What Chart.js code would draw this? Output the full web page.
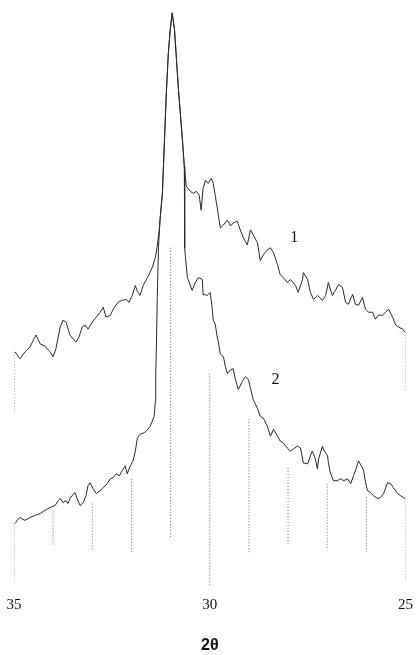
<!DOCTYPE html>
<html>
<head>
<meta charset="utf-8">
<script src="https://cdn.jsdelivr.net/npm/chart.js@4.4.1/dist/chart.umd.min.js"></script>
<style>
    body { margin: 0; background: #fff; }
    #wrap { width: 418px; height: 655px; }
</style>
</head>
<body>
<div id="wrap"><canvas id="xrd-chart"></canvas></div>
<script>
// 2-theta positions (degrees) and intensities (arbitrary units)
const angles1 = [34.97, 34.85, 34.72, 34.59, 34.44, 34.33, 34.21, 34.08, 34.00, 33.93, 33.82, 33.75, 33.67, 33.57, 33.49, 33.41, 33.34, 33.26, 33.18, 33.11,
    33.00, 32.90, 32.80, 32.72, 32.65, 32.54, 32.44, 32.34, 32.24, 32.14, 32.06, 31.98, 31.90, 31.85, 31.78, 31.70, 31.62, 31.55, 31.47, 31.39,
    31.34, 31.29, 31.27, 31.21, 31.16, 31.11, 31.06, 31.01, 30.96, 30.90, 30.85, 30.80, 30.75, 30.70, 30.65, 30.60, 30.50, 30.42, 30.34, 30.27,
    30.22, 30.17, 30.11, 30.04, 29.96, 29.91, 29.86, 29.78, 29.73, 29.65, 29.55, 29.47, 29.40, 29.30, 29.22, 29.14, 29.04, 28.96, 28.89, 28.78,
    28.71, 28.63, 28.53, 28.45, 28.37, 28.27, 28.20, 28.12, 28.02, 27.94, 27.81, 27.74, 27.63, 27.61, 27.50, 27.43, 27.35, 27.25, 27.12, 27.04,
    26.97, 26.87, 26.79, 26.71, 26.61, 26.53, 26.46, 26.35, 26.28, 26.20, 26.10, 26.02, 25.94, 25.84, 25.77, 25.69, 25.59, 25.51, 25.43, 25.33,
    25.25, 25.18, 25.07, 25.02];
const counts1 = [237, 230, 237, 242, 254, 245, 243, 237, 232, 240, 262, 269, 267, 254, 250, 247, 252, 262, 264, 260,
    267, 272, 277, 282, 272, 274, 282, 287, 289, 290, 287, 294, 304, 298, 294, 304, 310, 315, 322, 332,
    344, 360, 370, 397, 447, 497, 537, 562, 579, 562, 532, 502, 477, 452, 424, 404, 399, 397, 399, 395,
    380, 402, 410, 407, 412, 407, 395, 375, 362, 365, 370, 364, 367, 369, 360, 352, 345, 360, 355, 347,
    329, 335, 340, 342, 337, 325, 315, 312, 307, 310, 304, 297, 310, 317, 310, 297, 290, 294, 289, 294,
    307, 294, 299, 305, 302, 287, 285, 295, 285, 284, 292, 280, 277, 277, 270, 274, 274, 277, 280, 272,
    264, 262, 260, 257];

const angles2 = [34.97, 34.92, 34.85, 34.72, 34.59, 34.46, 34.33, 34.21, 34.08, 33.95, 33.87, 33.82, 33.75, 33.67, 33.62, 33.57, 33.52, 33.44, 33.39, 33.31,
    33.23, 33.16, 33.11, 33.06, 32.98, 32.90, 32.80, 32.72, 32.62, 32.54, 32.47, 32.39, 32.31, 32.24, 32.16, 32.11, 32.03, 31.96, 31.90, 31.85,
    31.78, 31.70, 31.62, 31.52, 31.47, 31.42, 31.39, 31.38, 31.36, 31.34, 31.31, 31.27, 31.21, 31.16, 31.11, 31.06, 31.01, 30.96, 30.90, 30.85,
    30.80, 30.75, 30.70, 30.65, 30.64, 30.62, 30.57, 30.55, 30.45, 30.37, 30.29, 30.19, 30.17, 30.06, 29.99, 29.94, 29.91, 29.86, 29.81, 29.78,
    29.73, 29.65, 29.60, 29.55, 29.47, 29.40, 29.35, 29.27, 29.17, 29.09, 29.01, 28.96, 28.89, 28.78, 28.71, 28.63, 28.53, 28.45, 28.37, 28.27,
    28.20, 28.12, 28.02, 27.94, 27.86, 27.76, 27.68, 27.61, 27.50, 27.43, 27.38, 27.30, 27.25, 27.22, 27.12, 27.10, 26.99, 26.97, 26.92, 26.84,
    26.74, 26.66, 26.58, 26.48, 26.40, 26.33, 26.28, 26.20, 26.10, 26.07, 26.02, 25.97, 25.89, 25.82, 25.71, 25.64, 25.56, 25.46, 25.38, 25.31,
    25.20, 25.13, 25.05, 25.00];
const counts2 = [64, 67, 70, 67, 70, 72, 74, 77, 80, 82, 87, 89, 85, 87, 84, 89, 92, 95, 89, 82,
    85, 92, 102, 105, 99, 94, 97, 100, 104, 109, 110, 114, 112, 117, 122, 114, 122, 127, 137, 150,
    154, 155, 157, 162, 167, 172, 187, 214, 247, 292, 342, 370, 397, 447, 497, 537, 562, 579, 562, 532,
    502, 477, 452, 424, 342, 332, 312, 310, 299, 307, 312, 310, 295, 294, 297, 282, 269, 265, 252, 247,
    235, 232, 222, 215, 219, 220, 210, 199, 207, 212, 209, 200, 189, 180, 172, 170, 162, 152, 159, 152,
    147, 145, 140, 137, 139, 142, 140, 125, 124, 132, 137, 129, 119, 129, 142, 139, 132, 125, 115, 107,
    107, 109, 107, 109, 104, 112, 117, 127, 120, 117, 105, 97, 95, 92, 89, 90, 94, 105, 104, 100,
    94, 92, 90, 89];

// dotted marker lines at whole degrees (below curve 2) and the end drops of curve 1
const dropAngles = [35, 34, 33, 32, 31, 30, 29, 28, 27, 26, 25];
const dropTop = [64, 77, 84, 109, 342, 215, 169, 120, 104, 90, 89];
const dropBottom = [5, 42, 37, 35, 49, 0, 35, 42, 37, 35, 5];
const endDropAngles = [35, 25];
const endDropTop = [237, 257];
const endDropBottom = [174, 199];

const tickValues = [35, 30, 25];
const curveNames = ['1', '2'];
const curveNameAngles = [27.84, 28.32];
const curveNameCounts = [352, 209];

function toPoints(xs, ys) {
    return xs.map((x, i) => ({ x: x, y: ys[i] }));
}

const datasets = [
    {
        label: curveNames[0],
        data: toPoints(angles1, counts1),
        borderColor: '#2a2a2a',
        borderWidth: 1,
        pointRadius: 0,
        tension: 0
    },
    {
        label: curveNames[1],
        data: toPoints(angles2, counts2),
        borderColor: '#2a2a2a',
        borderWidth: 1,
        pointRadius: 0,
        tension: 0
    }
];

dropAngles.forEach((a, i) => {
    datasets.push({
        data: [{ x: a, y: dropTop[i] }, { x: a, y: dropBottom[i] }],
        borderColor: '#666',
        borderWidth: 1,
        borderDash: [1, 2],
        pointRadius: 0
    });
});
endDropAngles.forEach((a, i) => {
    datasets.push({
        data: [{ x: a, y: endDropTop[i] }, { x: a, y: endDropBottom[i] }],
        borderColor: '#666',
        borderWidth: 1,
        borderDash: [1, 2],
        pointRadius: 0
    });
});

// writes the curve numbers next to the traces
const curveLabels = {
    id: 'curveLabels',
    afterDatasetsDraw(chart) {
        const { ctx, scales } = chart;
        ctx.save();
        ctx.fillStyle = '#111';
        ctx.font = '16px "Liberation Serif"';
        ctx.textAlign = 'center';
        ctx.textBaseline = 'middle';
        curveNames.forEach((name, i) => {
            ctx.fillText(name, scales.x.getPixelForValue(curveNameAngles[i]), scales.y.getPixelForValue(curveNameCounts[i]));
        });
        ctx.restore();
    }
};

new Chart(document.getElementById('xrd-chart'), {
    type: 'line',
    data: { datasets: datasets },
    options: {
        responsive: true,
        maintainAspectRatio: false,
        animation: false,
        layout: { padding: { left: 14, right: 12, top: 0, bottom: 0 } },
        plugins: {
            legend: { display: false },
            tooltip: { enabled: false }
        },
        scales: {
            x: {
                type: 'linear',
                reverse: true,
                min: 25,
                max: 35,
                // invisible tick marks only push the labels down a little
                grid: { display: true, drawOnChartArea: false, drawTicks: true, tickLength: 4, color: 'rgba(0,0,0,0)' },
                border: { display: false },
                afterBuildTicks: axis => {
                    axis.ticks = tickValues.map(v => ({ value: v }));
                },
                ticks: {
                    color: '#111',
                    padding: 5,
                    maxRotation: 0,
                    font: { family: 'Liberation Serif', size: 15 }
                },
                title: {
                    display: true,
                    text: '2θ',
                    color: '#111',
                    padding: { top: 17, bottom: 0 },
                    font: { family: 'Liberation Sans', size: 16, weight: 'bold' }
                }
            },
            y: {
                display: false,
                min: 0,
                max: 592
            }
        }
    },
    plugins: [curveLabels]
});
</script>
</body>
</html>
